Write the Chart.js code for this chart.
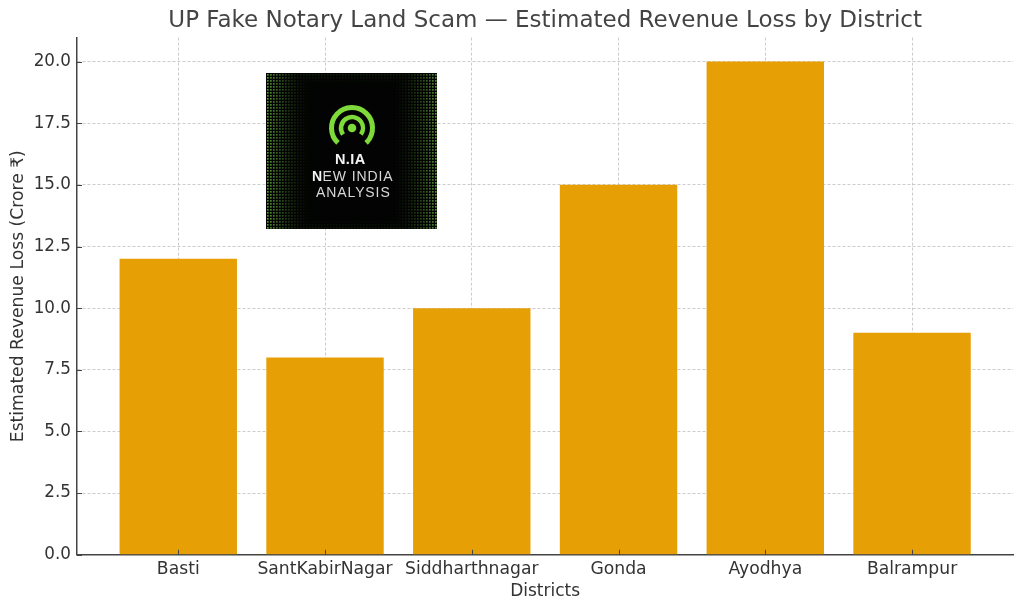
<!DOCTYPE html>
<html>
<head>
<meta charset="utf-8">
<title>UP Fake Notary Land Scam</title>
<script src="https://cdn.jsdelivr.net/npm/chart.js@4"></script>
<style>
  html, body { margin: 0; padding: 0; background: #fff; }
  canvas { display: block; }
</style>
</head>
<body>
<canvas id="districtChart" width="1024" height="610"></canvas>
<script>
const districts = ['Basti', 'SantKabirNagar', 'Siddharthnagar', 'Gonda', 'Ayodhya', 'Balrampur'];
const revenueLoss = [12, 8, 10, 15, 20, 9];
const yTicks = [0, 2.5, 5, 7.5, 10, 12.5, 15, 17.5, 20];
const logoLines = ['N.IA', 'EW INDIA', 'ANALYSIS'];

const FONT = '"DejaVu Sans", sans-serif';
const INK = '#333333';
const SPINE = '#444444';

// matplotlib style ticks, they point into the plot
const inwardTicks = {
  id: 'inwardTicks',
  afterDatasetsDraw(chart) {
    const { ctx, chartArea, scales } = chart;
    ctx.save();
    ctx.strokeStyle = SPINE;
    ctx.lineWidth = 1;
    scales.x.ticks.forEach(t => {
      const px = Math.round(scales.x.getPixelForValue(t.value)) + 0.5;
      ctx.beginPath();
      ctx.moveTo(px, chartArea.bottom);
      ctx.lineTo(px, chartArea.bottom - 5);
      ctx.stroke();
    });
    scales.y.ticks.forEach(t => {
      const py = Math.round(scales.y.getPixelForValue(t.value)) + 0.5;
      ctx.beginPath();
      ctx.moveTo(chartArea.left, py);
      ctx.lineTo(chartArea.left + 5, py);
      ctx.stroke();
    });
    ctx.restore();
  }
};

// the N.IA badge pasted over the top left of the plot
const logoBadge = {
  id: 'logoBadge',
  afterDraw(chart) {
    const { ctx } = chart;
    const x = 266, y = 73, w = 171, h = 156;
    ctx.save();
    ctx.fillStyle = '#020302';
    ctx.fillRect(x, y, w, h);

    for (let dy = 1; dy < h; dy += 3) {
      for (let dx = 1; dx < w; dx += 3) {
        const edgeX = (Math.abs(dx - w / 2) / (w / 2) - 0.4) / 0.6;
        const edgeY = (Math.abs(dy - h / 2) / (h / 2) - 0.8) / 0.2;
        const a = Math.max(edgeX, edgeY * 0.45);
        if (a <= 0) continue;
        ctx.fillStyle = 'rgba(115,205,70,' + (a * a * 0.75).toFixed(3) + ')';
        ctx.fillRect(x + dx, y + dy, 1.7, 1.7);
      }
    }

    const cx = 352, cy = 128;
    ctx.strokeStyle = '#7ed93a';
    ctx.lineCap = 'butt';
    ctx.lineWidth = 5;
    ctx.beginPath();
    ctx.arc(cx, cy, 20.5, Math.PI * 0.74, Math.PI * 0.26);
    ctx.stroke();
    ctx.lineWidth = 4.5;
    ctx.beginPath();
    ctx.arc(cx, cy, 11, Math.PI * 0.8, Math.PI * 0.2);
    ctx.stroke();
    ctx.fillStyle = '#7ed93a';
    ctx.beginPath();
    ctx.arc(cx, cy, 4.3, 0, Math.PI * 2);
    ctx.fill();

    ctx.textBaseline = 'alphabetic';
    ctx.textAlign = 'left';
    ctx.fillStyle = '#f4f4f4';
    ctx.font = 'bold 14.5px "Liberation Sans", sans-serif';
    ctx.letterSpacing = '0.4px';
    ctx.fillText(logoLines[0], 335, 164);

    ctx.font = 'bold 14px "Liberation Sans", sans-serif';
    ctx.letterSpacing = '0px';
    ctx.fillText('N', 312, 181);
    ctx.fillStyle = '#d8d8d8';
    ctx.font = '14px "Liberation Sans", sans-serif';
    ctx.letterSpacing = '0.9px';
    ctx.fillText(logoLines[1], 322.5, 181);
    ctx.fillText(logoLines[2], 316, 197);
    ctx.restore();
  }
};

new Chart(document.getElementById('districtChart'), {
  type: 'bar',
  data: {
    datasets: [{
      label: 'Estimated Revenue Loss',
      data: districts.map((name, i) => ({ x: i, y: revenueLoss[i] })),
      backgroundColor: 'rgba(229,157,0,0.98)',
      borderWidth: 0,
      categoryPercentage: 0.8,
      barPercentage: 1
    }]
  },
  plugins: [inwardTicks, logoBadge],
  options: {
    responsive: false,
    animation: false,
    layout: { padding: { top: 7, right: 10.7, left: 8, bottom: 8 } },
    plugins: {
      legend: { display: false },
      tooltip: { enabled: false },
      title: {
        display: true,
        fullSize: false,
        text: 'UP Fake Notary Land Scam — Estimated Revenue Loss by District',
        color: '#444444',
        font: { family: FONT, size: 23, weight: 'normal' },
        padding: { top: 0, bottom: 3 }
      }
    },
    scales: {
      x: {
        type: 'linear',
        offset: false,
        min: -0.69,
        max: 5.69,
        afterBuildTicks(scale) {
          scale.ticks = districts.map((name, i) => ({ value: i }));
        },
        afterFit(scale) { scale.height = 47.2; },
        grid: {
          offset: false,
          color: '#cccccc',
          lineWidth: 1,
          drawTicks: false
        },
        border: { color: SPINE, width: 1.5, dash: [3, 2] },
        ticks: {
          color: INK,
          font: { family: FONT, size: 17.2 },
          padding: 4,
          maxRotation: 0,
          autoSkip: false,
          callback: value => districts[value]
        },
        title: {
          display: true,
          text: 'Districts',
          color: INK,
          font: { family: FONT, size: 17 },
          padding: { top: 0, bottom: 0 }
        }
      },
      y: {
        min: 0,
        max: 20.97,
        afterBuildTicks(scale) {
          scale.ticks = yTicks.map(v => ({ value: v }));
        },
        afterFit(scale) { scale.width = 69; },
        grid: {
          color: '#cccccc',
          lineWidth: 1,
          drawTicks: false
        },
        border: { color: SPINE, width: 1.5, dash: [3, 2] },
        ticks: {
          color: INK,
          font: { family: FONT, size: 16.8 },
          padding: 6,
          callback: value => value.toFixed(1)
        },
        title: {
          display: true,
          text: 'Estimated Revenue Loss (Crore ₹)',
          color: INK,
          font: { family: FONT, size: 17.2 },
          padding: { top: 0, bottom: 0 }
        }
      }
    }
  }
});
</script>
</body>
</html>
